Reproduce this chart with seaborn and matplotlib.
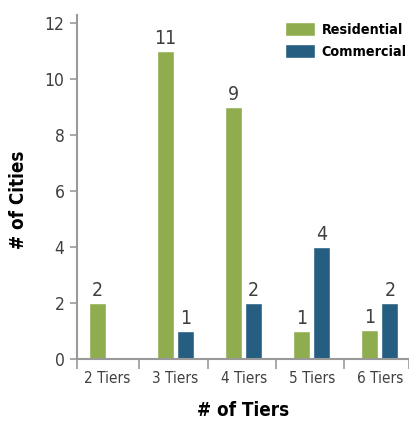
import pandas as pd
import seaborn as sns
import matplotlib.pyplot as plt
from matplotlib import font_manager

# data
tiers = ["2 Tiers", "3 Tiers", "4 Tiers", "5 Tiers", "6 Tiers"]
residential = [2, 11, 9, 1, 1.05]
commercial = [0, 1, 2, 4, 2]
series = ["Residential", "Commercial"]
colors = ["#8fad4e", "#255e80"]

sns.set_style("white")
plt.rcParams["font.family"] = ["DejaVu Sans"]
# use the condensed cut if it is there
cond = [f for f in font_manager.fontManager.ttflist
        if f.name == "DejaVu Sans" and f.stretch == "condensed"]
if cond:
    plt.rcParams["font.stretch"] = "condensed"

df = pd.DataFrame({
    "tier": tiers * 2,
    "kind": [series[0]] * len(tiers) + [series[1]] * len(tiers),
    "cities": residential + commercial,
})

fig = plt.figure(figsize=(4.09, 4.21), dpi=100)
ax = fig.add_axes([0.188, 0.1473, 0.812, 0.817])

sns.barplot(data=df, x="tier", y="cities", hue="kind", order=tiers,
            hue_order=series, palette=colors, width=0.586, gap=0.15,
            saturation=1, ax=ax)

# value labels (skip the empty bar)
for cont in ax.containers:
    labs = [f"{v:.0f}" if v > 0 else "" for v in cont.datavalues]
    ax.bar_label(cont, labels=labs, padding=2, fontsize=14, color="#404040")

ax.set_ylim(0, 12.29)
ax.set_xlim(-0.448, 4.427)
ax.set_yticks([0, 2, 4, 6, 8, 10, 12])
ax.set_xticks(range(len(tiers)))
ax.set_xticklabels(tiers)
ax.set_xticks([-0.448, 0.47, 1.47, 2.47, 3.47, 4.427], minor=True)

sns.despine(ax=ax)
for s in ["left", "bottom"]:
    ax.spines[s].set_color("#999999")
    ax.spines[s].set_linewidth(1.5)

ax.tick_params(axis="y", left=True, length=5, width=1.2, color="#999999",
               labelsize=12.5, labelcolor="#404040", pad=4)
ax.tick_params(axis="x", which="major", bottom=False, labelsize=11,
               labelcolor="#404040", pad=5)
ax.tick_params(axis="x", which="minor", bottom=True, length=7, width=1.2,
               color="#999999")

ax.set_xlabel("# of Tiers", fontsize=13.5, fontweight="bold", color="black",
              labelpad=11)
ax.set_ylabel("# of Cities", fontsize=13.5, fontweight="bold", color="black")
ax.yaxis.set_label_coords(-0.148, 0.462)

leg = ax.legend(loc="upper left", bbox_to_anchor=(0.697, 0.948),
                bbox_transform=fig.transFigure, frameon=False,
                prop={"weight": "bold", "size": 10.3}, handlelength=2.1,
                handleheight=1.12, handletextpad=0.45, labelspacing=0.5,
                borderpad=0, borderaxespad=0)
for t in leg.get_texts():
    t.set_color("black")

plt.savefig("out.png", dpi=100)
